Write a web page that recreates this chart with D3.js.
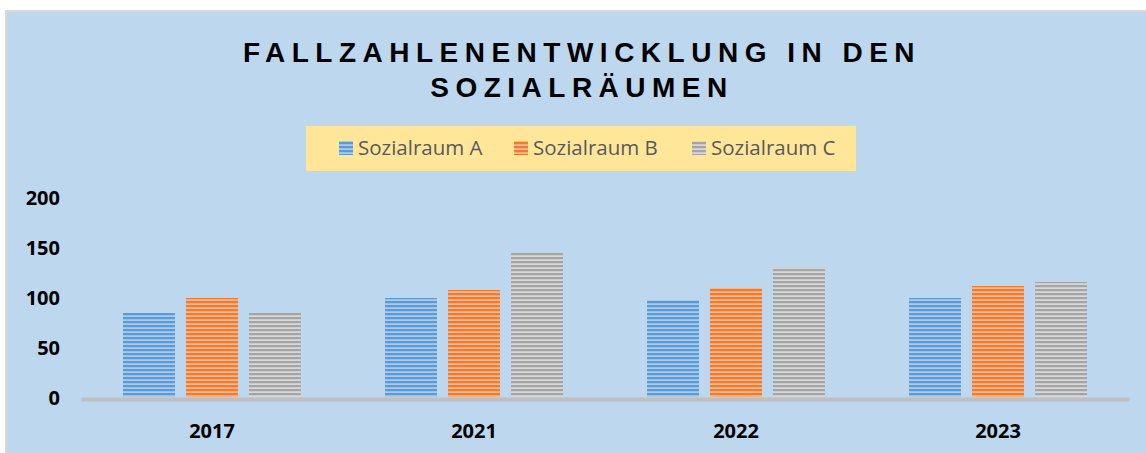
<!DOCTYPE html>
<html>
<head>
<meta charset="utf-8">
<script src="https://cdn.jsdelivr.net/npm/d3@7"></script>
<style>
  html, body { margin: 0; padding: 0; background: #ffffff; }
  svg { display: block; }
</style>
</head>
<body>
<div id="chart"></div>
<script>
// chart data
var years = ["2017", "2021", "2022", "2023"];
var seriesNames = ["Sozialraum A", "Sozialraum B", "Sozialraum C"];
var valuesA = [84, 99, 97, 99];
var valuesB = [99, 107, 109, 111];
var valuesC = [84, 144, 130, 115];
var yTicks = [0, 50, 100, 150, 200];
var titleLines = ["FALLZAHLENENTWICKLUNG IN DEN", "SOZIALRÄUMEN"];

var seriesColors = [
  {dark: "#5B9BD5", light: "#A9CAEA"},
  {dark: "#ED7D31", light: "#F6B68D"},
  {dark: "#A5A5A5", light: "#D8D8D8"}
];

var width = 1146, height = 453;

var svg = d3.select("#chart")
  .append("svg")
  .attr("width", width)
  .attr("height", height);

// striped fills
var defs = svg.append("defs");
seriesColors.forEach((c, i) => {
  var p = defs.append("pattern")
    .attr("id", "stripe" + i)
    .attr("patternUnits", "userSpaceOnUse")
    .attr("width", 8)
    .attr("height", 4);
  p.append("rect").attr("width", 8).attr("height", 4).attr("fill", c.light);
  p.append("rect").attr("y", 1).attr("width", 8).attr("height", 2.2).attr("fill", c.dark);
});

// background
svg.append("rect")
  .attr("x", 6).attr("y", 11)
  .attr("width", width).attr("height", height)
  .attr("fill", "#BDD7EE")
  .attr("stroke", "#D9D9D9")
  .attr("stroke-width", 2);

// title
svg.append("g").selectAll("text")
  .data(titleLines)
  .join("text")
    .attr("x", 582)
    .attr("y", (d, i) => 62 + i * 35)
    .attr("text-anchor", "middle")
    .style("font-family", "'Liberation Sans', Arial, sans-serif")
    .style("font-weight", "bold")
    .style("font-size", "28px")
    .style("letter-spacing", "6.5px")
    .style("fill", "#000")
    .text(d => d);

// legend
var legend = svg.append("g");
legend.append("rect")
  .attr("x", 306).attr("y", 126)
  .attr("width", 550).attr("height", 45)
  .attr("fill", "#FFE699");

var legendX = [339, 514, 692];
var li = legend.selectAll("g.item")
  .data(seriesNames)
  .join("g")
    .attr("class", "item")
    .attr("transform", (d, i) => `translate(${legendX[i]}, 141)`);
li.append("rect")
  .attr("width", 14).attr("height", 14)
  .attr("fill", (d, i) => `url(#stripe${i})`);
li.append("text")
  .attr("x", 19).attr("y", 14)
  .style("font-family", "'Open Sans', sans-serif")
  .style("font-size", "20.5px")
  .style("fill", "#595959")
  .text(d => d);

// scales
var x0 = d3.scaleBand()
  .domain(years)
  .range([81, 1129]);

var x1 = d3.scaleBand()
  .domain(seriesNames)
  .range([0, x0.bandwidth()])
  .paddingInner(0.175)
  .paddingOuter(0.667);

var y = d3.scaleLinear()
  .domain([0, 200])
  .range([397, 197]);

var rows = years.map((yr, i) => ({
  year: yr,
  vals: [valuesA[i], valuesB[i], valuesC[i]]
}));

// bars
svg.append("g").selectAll("g")
  .data(rows)
  .join("g")
    .attr("transform", d => `translate(${x0(d.year)},0)`)
  .selectAll("rect")
  .data(d => d.vals.map((v, i) => ({name: seriesNames[i], v: v, i: i})))
  .join("rect")
    .attr("x", d => x1(d.name))
    .attr("width", x1.bandwidth())
    .attr("y", d => y(d.v))
    .attr("height", d => y(0) - y(d.v))
    .attr("fill", d => `url(#stripe${d.i})`);

// y axis
var yAxis = svg.append("g")
  .attr("transform", "translate(60,0)")
  .call(d3.axisLeft(y).tickValues(yTicks).tickSize(0).tickPadding(0));
yAxis.select(".domain").remove();
yAxis.selectAll("text")
  .style("font-family", "'Open Sans', sans-serif")
  .style("font-weight", "bold")
  .style("font-size", "20px")
  .style("fill", "#000")
  .attr("dy", "0.36em");

// x axis
var xAxis = svg.append("g")
  .attr("transform", "translate(0,397)")
  .call(d3.axisBottom(x0).tickSize(0).tickPadding(27));
xAxis.select(".domain")
  .attr("stroke", "#BFBFBF")
  .attr("stroke-width", 4)
  .attr("transform", "translate(0,2)");
xAxis.selectAll("text")
  .style("font-family", "'Open Sans', sans-serif")
  .style("font-weight", "bold")
  .style("font-size", "20px")
  .style("fill", "#000");
</script>
</body>
</html>
